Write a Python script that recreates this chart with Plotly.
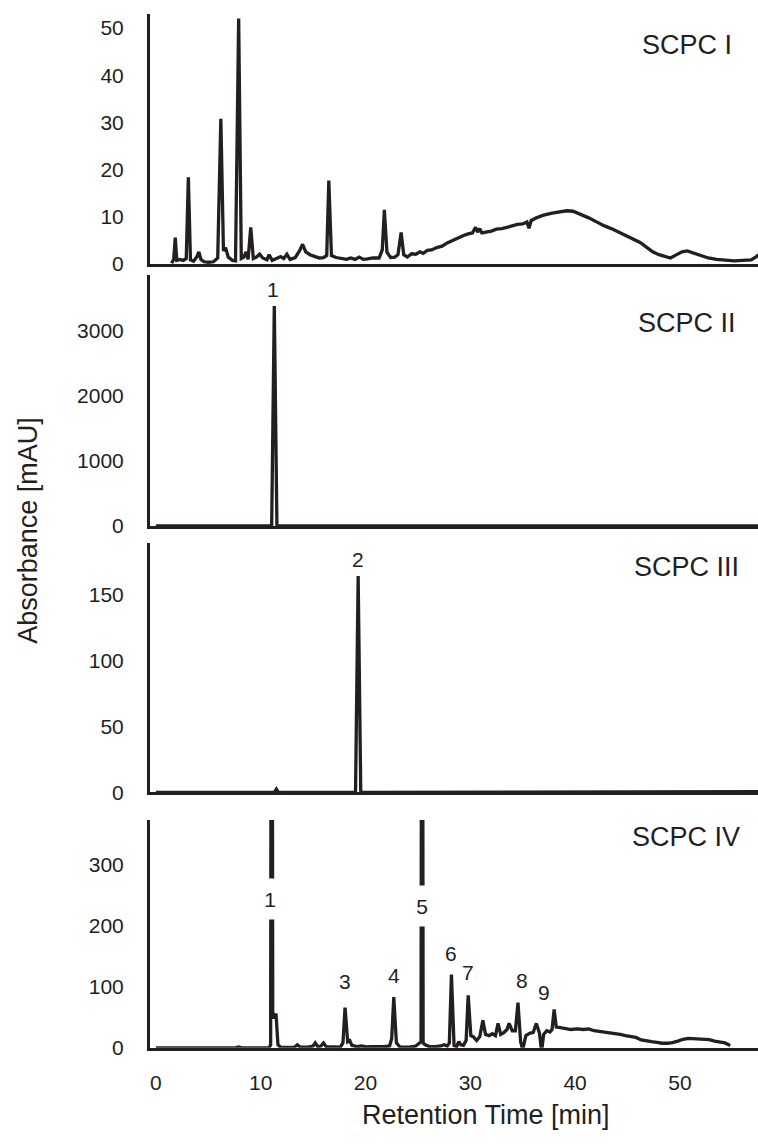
import plotly.graph_objects as go

# ---------------- data ----------------
# SCPC I chromatogram
t1 = [1.5, 1.7, 1.85, 2.0, 2.3, 2.6, 2.9, 3.1, 3.3, 3.6, 3.9, 4.1, 4.3, 4.6, 5.0, 5.5, 5.9,
      6.2, 6.45, 6.65, 6.9, 7.3, 7.6, 7.9, 8.15, 8.4, 8.6, 8.8, 9.05, 9.3, 9.6, 9.9, 10.2,
      10.6, 10.8, 11.1, 11.5, 11.9, 12.2, 12.5, 12.8, 13.3, 13.7, 14.0, 14.3, 14.7, 15.2,
      15.6, 16.0, 16.3, 16.5, 16.75, 17.2, 17.7, 18.2, 18.6, 19.0, 19.4, 19.8, 20.2, 20.7,
      21.3, 21.6, 21.8, 22.05, 22.4, 22.8, 23.1, 23.4, 23.65, 24.0, 24.4, 24.8, 25.2, 25.5,
      25.9, 26.3, 26.8, 27.3, 27.8, 28.3, 28.8, 29.3, 29.8, 30.2, 30.5, 30.7, 30.9, 31.1,
      31.5, 32.0, 32.5, 33.0, 33.5, 34.0, 34.5, 35.0, 35.4, 35.6, 35.8, 36.3, 37.0, 37.8,
      38.5, 39.2, 39.8, 40.5, 41.3, 42.0, 42.8, 43.6, 44.3, 45.0, 45.6, 46.2, 46.8, 47.4,
      48.0, 48.6, 49.1, 49.6, 50.2, 50.7, 51.3, 52.0, 52.7, 53.5, 54.3, 55.2, 56.0, 56.8,
      57.3, 57.5]
a1 = [0.2, 1.0, 5.6, 0.8, 1.0, 0.8, 1.2, 18.4, 0.9, 0.6, 1.5, 2.6, 1.0, 0.5, 0.4, 0.5, 1.3,
      30.8, 2.8, 3.5, 1.5, 0.8, 0.7, 52.0, 1.2, 1.5, 2.6, 1.0, 7.8, 1.2, 1.5, 2.1, 1.3,
      0.9, 2.0, 0.8, 1.2, 1.6, 1.2, 2.1, 1.0, 1.4, 2.8, 4.2, 2.6, 2.0, 1.6,
      1.3, 1.4, 1.8, 17.7, 1.8, 1.4, 1.2, 1.0, 1.3, 1.0, 1.5, 1.0, 1.1, 1.3,
      1.3, 3.0, 11.5, 2.5, 1.4, 1.5, 2.0, 6.7, 2.0, 1.5, 2.2, 2.1, 2.6, 2.3,
      2.9, 3.0, 3.5, 3.8, 4.5, 5.0, 5.6, 6.0, 6.4, 6.6, 7.8, 6.8, 7.5, 6.6,
      6.8, 7.0, 7.4, 7.5, 7.8, 8.1, 8.4, 8.5, 8.9, 7.6, 9.2, 9.8, 10.4, 10.8,
      11.1, 11.3, 11.2, 10.6, 9.8, 9.0, 8.1, 7.4, 6.6, 5.8, 5.2, 4.6, 3.6, 2.6,
      2.0, 1.6, 1.3, 1.9, 2.6, 2.8, 2.4, 1.8, 1.3, 1.0, 0.8, 0.7, 0.8, 0.9,
      1.6, 2.0]

# SCPC II chromatogram
t2 = [0.0, 11.05, 11.3, 11.55, 57.5]
a2 = [0.0, 0.0, 3380.0, 0.0, 0.0]

# SCPC III chromatogram
t3 = [0.0, 11.3, 11.5, 11.7, 19.05, 19.3, 19.55, 57.5]
a3 = [0.0, 0.0, 2.5, 0.0, 0.0, 163.7, 0.0, 0.5]

# SCPC IV chromatogram (peaks 1 and 5 exceed the axis)
t4 = [0.0, 7.6, 7.9, 8.2, 10.8, 10.95, 11.05, 11.15, 11.3, 11.46, 11.65, 11.9, 12.5, 13.2, 13.5,
      13.8, 14.6, 15.0, 15.2, 15.45, 15.75, 16.0, 16.25, 17.0, 17.6, 17.85, 18.05, 18.3,
      18.5, 18.7, 19.2, 19.6, 20.1, 20.6, 21.2, 21.8, 22.3, 22.5, 22.7, 22.95, 23.3, 24.2,
      24.8, 25.1, 25.3, 25.4, 25.5, 25.7, 26.1, 26.6, 27.2, 27.5, 27.8, 28.0, 28.2, 28.45, 28.7, 28.9,
      29.1, 29.35, 29.6, 29.8, 30.05, 30.3, 30.6, 30.9, 31.2, 31.45, 31.8, 32.1, 32.4,
      32.65, 32.9, 33.2, 33.5, 33.7, 34.0, 34.3, 34.55, 34.8, 35.0, 35.3, 35.7, 36.0, 36.3,
      36.6, 36.8, 37.0, 37.3, 37.6, 37.8, 38.0, 38.2, 38.6, 39.0, 39.6, 40.2, 40.8, 41.3,
      41.8, 42.3, 42.8, 43.3, 43.8, 44.3, 44.8, 45.3, 45.8, 46.3, 46.8, 47.3, 47.8, 48.3,
      48.8, 49.3, 49.8, 50.3, 50.8, 51.3, 51.8, 52.3, 52.8, 53.3, 53.8, 54.3, 54.8]
a4 = [0.0, 0.0, 1.5, 0.0, 0.0, 5.0, 1500.0, 50.0, 50.0, 56.0, 5.0, 1.0, 0.5, 1.0, 5.0,
      1.0, 1.5, 3.0, 8.0, 2.0, 3.0, 8.0, 2.0, 1.0, 1.0, 8.0, 66.0, 10.0,
      12.0, 4.0, 2.0, 3.0, 1.5, 2.0, 1.5, 2.0, 3.0, 15.0, 83.0, 8.0, 1.0, 1.0,
      3.0, 8.0, 10.0, 1500.0, 8.0, 5.0, 2.0, 2.0, 3.0, 5.0, 3.0, 8.0, 120.0, 4.0, 2.0, 10.0,
      5.0, 4.0, 12.0, 86.0, 20.0, 18.0, 12.0, 18.0, 45.0, 22.0, 20.0, 23.0, 20.0,
      40.0, 22.0, 25.0, 30.0, 40.0, 28.0, 28.0, 74.0, 10.0, -3.0, 20.0, 24.0, 25.0, 40.0,
      24.0, -6.0, 22.0, 28.0, 26.0, 30.0, 63.0, 34.0, 33.0, 32.0, 30.0, 31.0, 30.0, 31.0,
      28.0, 27.0, 26.0, 25.0, 24.0, 22.0, 20.0, 18.0, 17.0, 13.0, 11.0, 10.0, 9.0, 7.5,
      7.5, 8.5, 11.0, 14.0, 15.5, 15.0, 14.0, 13.0, 13.5, 11.0, 10.0, 8.0, 4.0]

panel_titles = ["SCPC I", "SCPC II", "SCPC III", "SCPC IV"]
y_ticks = [[0, 10, 20, 30, 40, 50], [0, 1000, 2000, 3000], [0, 50, 100, 150], [0, 100, 200, 300]]
y_ranges = [[0, 53], [0, 3850], [0, 189], [0, 373]]
x_ticks = [0, 10, 20, 30, 40, 50]
x_range = [-0.56, 57.45]

# peak labels: (panel index, label, time, absorbance)
peak_labels = [
    (2, "1", 11.2, 3635),
    (3, "2", 19.3, 176),
    (4, "1", 10.9, 244),
    (4, "3", 18.05, 108),
    (4, "4", 22.7, 119),
    (4, "5", 25.4, 233),
    (4, "6", 28.2, 154),
    (4, "7", 29.8, 124),
    (4, "8", 34.9, 110),
    (4, "9", 37.0, 91),
]
broken_peaks = {(4, "1"), (4, "5")}

# ---------------- figure ----------------
W, H = 758, 1144
INK = "#231f20"
FONT = "Liberation Sans, Arial, Helvetica, sans-serif"

# panel pixel extents (top, bottom)
panel_px = [(14, 266.7), (278, 531), (548, 800), (828, 1058)]

fig = go.Figure()
series = [(t1, a1), (t2, a2), (t3, a3), (t4, a4)]
for i, (tt, aa) in enumerate(series):
    fig.add_trace(go.Scatter(
        x=tt, y=aa, mode="lines",
        line=dict(color=INK, width=3.3),
        xaxis="x" if i == 0 else f"x{i+1}",
        yaxis="y" if i == 0 else f"y{i+1}",
        showlegend=False, hoverinfo="skip",
    ))

layout = dict(
    width=W, height=H,
    margin=dict(l=150, r=0, t=0, b=0),
    paper_bgcolor="white", plot_bgcolor="white",
    font=dict(family=FONT, color=INK, size=21),
    showlegend=False,
)
for i, (top, bot) in enumerate(panel_px):
    suffix = "" if i == 0 else str(i + 1)
    dom = [1 - bot / H, 1 - top / H]
    layout["xaxis" + suffix] = dict(
        domain=[0, 1], anchor="y" + suffix, range=x_range,
        showline=True, linecolor=INK, linewidth=3, showgrid=False, zeroline=False,
        ticks="", tickvals=x_ticks, showticklabels=(i == 3),
        tickfont=dict(size=21, color=INK), ticklabelstandoff=14,
        matches=None if i == 0 else "x",
    )
    layout["yaxis" + suffix] = dict(
        domain=dom, anchor="x" + suffix, range=y_ranges[i],
        showline=True, linecolor=INK, linewidth=3, showgrid=False, zeroline=False,
        ticks="", tickvals=y_ticks[i], tickfont=dict(size=21, color=INK),
        ticklabelstandoff=19,
    )
fig.update_layout(**layout)

# panel titles
title_pos = [(640, 45), (636, 326), (632, 573), (630, 845)]
for name, (px, py) in zip(panel_titles, title_pos):
    fig.add_annotation(
        text=name, xref="paper", yref="paper",
        x=(px - 150) / (W - 150), y=1 - py / H,
        xanchor="left", yanchor="middle", showarrow=False,
        font=dict(size=27, color=INK, family=FONT),
    )

# peak labels
for panel, lab, tx, ay in peak_labels:
    suffix = "" if panel == 1 else str(panel)
    kw = {}
    if (panel, lab) in broken_peaks:
        kw = dict(bgcolor="white", height=38, width=18)
    fig.add_annotation(
        text=lab, xref="x" + suffix, yref="y" + suffix, x=tx, y=ay,
        xanchor="center", yanchor="middle", showarrow=False,
        font=dict(size=21, color=INK, family=FONT), **kw,
    )

# axis titles
fig.add_annotation(
    text="Absorbance [mAU]", xref="paper", yref="paper",
    x=(28 - 150) / (W - 150), y=1 - 535 / H, textangle=-90,
    xanchor="center", yanchor="middle", showarrow=False,
    font=dict(size=27, color=INK, family=FONT),
)
fig.add_annotation(
    text="Retention Time [min]", xref="paper", yref="paper",
    x=(486 - 150) / (W - 150), y=1 - 1126 / H,
    xanchor="center", yanchor="middle", showarrow=False,
    font=dict(size=27, color=INK, family=FONT),
)

fig.write_html("out.html")
